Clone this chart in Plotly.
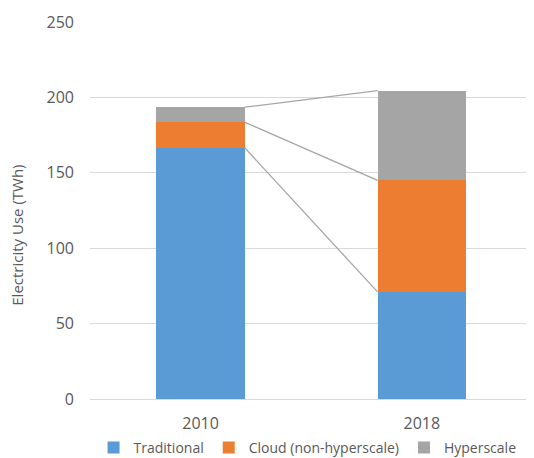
import plotly.graph_objects as go

years = ["2010", "2018"]
traditional = [166.5, 71]
cloud = [17, 74]
hyperscale = [10, 59.5]
series_names = ["Traditional", "Cloud (non-hyperscale)", "Hyperscale"]
colors = ["#5B9BD5", "#ED7D31", "#A5A5A5"]
y_title = "Electricity Use (TWh)"

xpos = list(range(len(years)))
bar_w = 0.4
txt = "#595959"

fig = go.Figure()
for name, vals, col in zip(series_names, [traditional, cloud, hyperscale], colors):
    fig.add_trace(go.Bar(x=xpos, y=vals, name=name, marker_color=col,
                         marker_line_width=0, width=bar_w))

# connector lines between cumulative tops
cum = [0, 0]
for vals in [traditional, cloud, hyperscale]:
    cum = [c + v for c, v in zip(cum, vals)]
    fig.add_trace(go.Scatter(x=[xpos[0] + bar_w / 2, xpos[1] - bar_w / 2], y=cum,
                             mode="lines", line=dict(color="#A6A6A6", width=1.3),
                             showlegend=False, hoverinfo="skip"))

fig.add_annotation(text=y_title, textangle=-90, xref="paper", yref="paper",
                   x=-0.165, y=0.435, xanchor="center", yanchor="middle",
                   showarrow=False, font=dict(size=15, color=txt))

# page body has an 8px margin, so the figure is drawn 8px smaller and offset
fig.update_layout(
    barmode="stack",
    width=526, height=450,
    margin=dict(l=82, r=0, t=14, b=59, autoexpand=False),
    plot_bgcolor="white", paper_bgcolor="white",
    font=dict(family="Open Sans, Liberation Sans, sans-serif", size=16, color=txt),
    legend=dict(orientation="h", x=0.49, xanchor="center", y=-0.087, yanchor="top",
                font=dict(size=14, color=txt), traceorder="normal",
                itemwidth=30, tracegroupgap=0),
    showlegend=True,
)
fig.update_xaxes(tickvals=xpos, ticktext=years, range=[-0.5, 1.507],
                 showgrid=False, zeroline=False, showline=False, ticks="",
                 tickfont=dict(size=16, color=txt), ticklabelstandoff=13)
fig.update_yaxes(range=[0, 250], dtick=50, showgrid=True, gridcolor="#D9D9D9",
                 gridwidth=1, zeroline=True, zerolinecolor="#D9D9D9", zerolinewidth=1,
                 tickfont=dict(size=16, color=txt), ticks="", ticklabelstandoff=15)

fig.write_html("out.html")
